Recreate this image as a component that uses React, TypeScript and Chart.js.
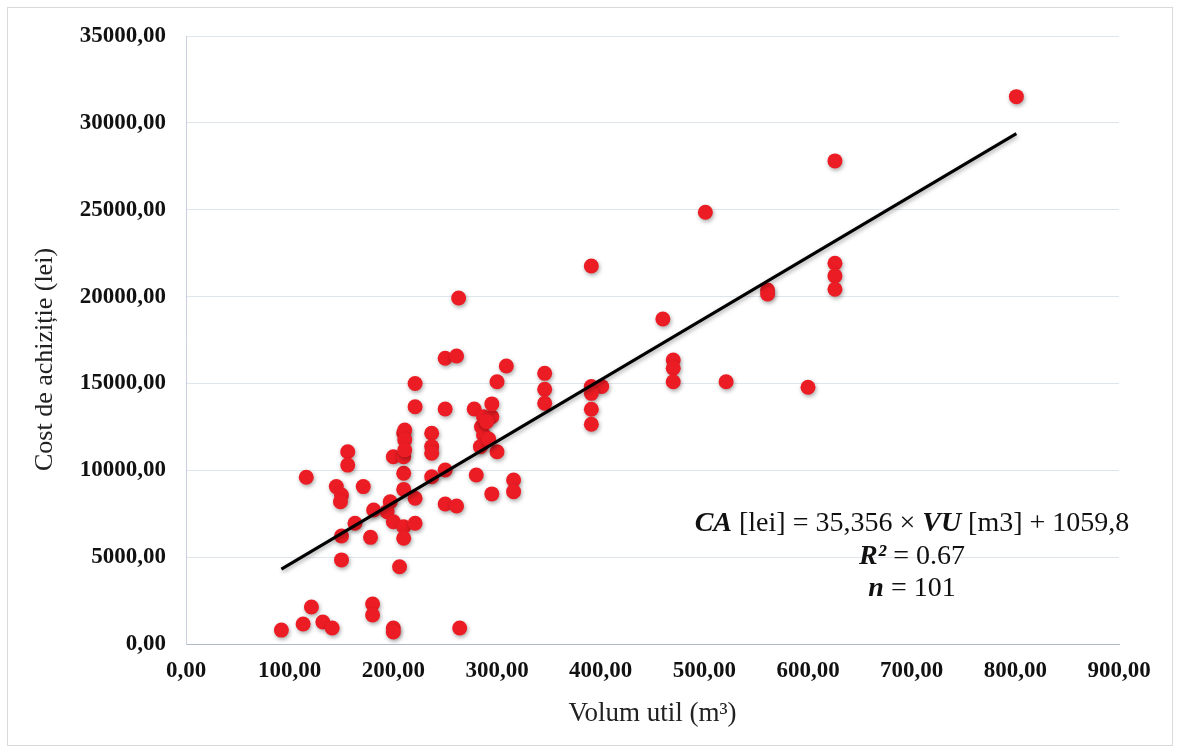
import React, { useEffect, useRef } from 'react';
import { Chart, registerables } from 'chart.js';

Chart.register(...registerables);

// Volum util (m3)
const volumeX = [
  92, 113, 121, 132, 141, 180, 180, 200, 200, 264,
  156, 156, 116, 145, 150, 149, 171, 210, 210, 221,
  197, 181, 194, 200, 210, 221, 210, 163, 150, 178,
  150, 206, 200, 210, 210, 221, 221, 211, 211, 211,
  237, 237, 237, 237, 250, 250, 261, 263, 250, 250,
  261, 278, 280, 285, 287, 284, 287, 295, 295, 300,
  295, 300, 309, 316, 316, 290, 292,
  346, 346, 346, 391, 391, 401, 391, 391, 391, 460,
  470, 470, 470, 501, 521, 561, 561, 600, 626, 626,
  626, 626, 801,
];

// Cost de achizitie (lei)
const costY = [
  800, 1150, 2130, 1270, 920, 2300, 1670, 920, 690, 920,
  11070, 10300, 9600, 9060, 8580, 8190, 9060, 9830, 8900, 8390,
  8190, 7710, 7620, 7040, 6750, 6950, 6090, 6950, 6220, 6140,
  4840, 4450, 10780, 10780, 12150, 15000, 13660, 12320, 11750, 11170,
  12130, 11360, 10980, 9630, 10020, 16450, 16580, 19920, 13530, 8060,
  7945, 13530, 9730, 12510, 12030, 11360, 13085, 13085, 13820, 11070,
  8640, 15100, 16000, 9440, 8770, 12800, 11800,
  15580, 14660, 13860, 21760, 14820, 14820, 14430, 13510, 12650, 18710,
  16350, 15870, 15100, 24850, 15100, 20380, 20150, 14780, 27810, 21920,
  21190, 20420, 31510,
];

// Regression: CA = 35,356 x VU + 1059,8
const slope = 35.356;
const intercept = 1059.8;
const trendX = [92, 801];

const xMin = 0;
const xMax = 900;
const xStep = 100;
const yMin = 0;
const yMax = 35000;
const yStep = 5000;

const xAxisTitle = 'Volum util (m³)';
const yAxisTitle = 'Cost de achiziție (lei)      ';

// equation lines: [text, bold-italic?]
const eqLine1: [string, boolean][] = [['CA', true], [' [lei] = 35,356 × ', false], ['VU', true], [' [m3] + 1059,8', false]];
const eqLine2: [string, boolean][] = [['R²', true], [' = 0.67', false]];
const eqLine3: [string, boolean][] = [['n', true], [' = 101', false]];

const FONT = '"Liberation Serif", "Times New Roman", serif';

const fmt = (v: number) => Number(v).toFixed(2).replace('.', ',');

const shadowPlugin = {
  id: 'dotShadow',
  beforeDatasetDraw(chart: any) {
    const ctx = chart.ctx;
    ctx.save();
    ctx.shadowColor = 'rgba(0,0,0,0.35)';
    ctx.shadowBlur = 4;
    ctx.shadowOffsetX = 1;
    ctx.shadowOffsetY = 2;
  },
  afterDatasetDraw(chart: any) {
    chart.ctx.restore();
  },
};

const equationPlugin = {
  id: 'equation',
  afterDraw(chart: any) {
    const ctx = chart.ctx;
    const size = 28;
    const cx = 912;
    const lines = [
      { segs: eqLine1, y: 524 },
      { segs: eqLine2, y: 557 },
      { segs: eqLine3, y: 589 },
    ];
    ctx.save();
    ctx.textBaseline = 'middle';
    ctx.textAlign = 'left';
    ctx.fillStyle = '#111';
    for (const line of lines) {
      let total = 0;
      const widths: number[] = [];
      for (const [t, b] of line.segs) {
        ctx.font = `${b ? 'italic bold ' : ''}${size}px ${FONT}`;
        const w = ctx.measureText(t).width;
        widths.push(w);
        total += w;
      }
      let x = cx - total / 2;
      line.segs.forEach(([t, b], i) => {
        ctx.font = `${b ? 'italic bold ' : ''}${size}px ${FONT}`;
        ctx.fillText(t, x, line.y);
        x += widths[i];
      });
    }
    ctx.restore();
  },
};

export default function App() {
  const ref = useRef<HTMLCanvasElement | null>(null);

  useEffect(() => {
    if (!ref.current) return;
    const points = volumeX.map((x, i) => ({ x, y: costY[i] }));
    const trend = trendX.map((x) => ({ x, y: slope * x + intercept }));
    const chart = new Chart(ref.current, {
      type: 'scatter',
      data: {
        datasets: [
          {
            type: 'line',
            label: 'Trend',
            data: trend,
            borderColor: '#000',
            borderWidth: 3,
            pointRadius: 0,
            fill: false,
          } as any,
          {
            label: 'Cost',
            data: points,
            backgroundColor: '#ec1c24',
            borderWidth: 0,
            pointRadius: 7.5,
          },
        ],
      },
      options: {
        responsive: false,
        animation: false,
        layout: { padding: { left: 0, right: 61, top: 36, bottom: 0 } },
        plugins: {
          legend: { display: false },
          tooltip: { enabled: false },
        },
        scales: {
          x: {
            type: 'linear',
            min: xMin,
            max: xMax,
            afterFit: (s: any) => { s.height = 109; },
            grid: { display: false, drawTicks: false },
            border: { display: true, color: '#aeb9c8', width: 1 },
            ticks: {
              stepSize: xStep,
              padding: 13,
              color: '#111',
              font: { family: FONT, size: 23, weight: 'bold' },
              callback: (v: any) => fmt(v),
              maxRotation: 0,
            },
            title: {
              display: true,
              text: xAxisTitle,
              color: '#222',
              font: { family: FONT, size: 27 },
              padding: { top: 0, bottom: 23 },
            },
          },
          y: {
            type: 'linear',
            min: yMin,
            max: yMax,
            afterFit: (s: any) => { s.width = 186; },
            grid: { color: '#dfe5ec', lineWidth: 1, drawTicks: false },
            border: { display: true, color: '#c6d0dc', width: 1 },
            ticks: {
              stepSize: yStep,
              padding: 20,
              color: '#111',
              font: { family: FONT, size: 23, weight: 'bold' },
              callback: (v: any) => fmt(v),
            },
            title: {
              display: true,
              text: yAxisTitle,
              color: '#222',
              font: { family: FONT, size: 26 },
              padding: { top: 30, bottom: 0 },
            },
          },
        },
      },
      plugins: [shadowPlugin, equationPlugin],
    });
    return () => chart.destroy();
  }, []);

  return (
    <div style={{ position: 'fixed', left: 0, top: 0, width: 1180, height: 753, background: '#fff' }}>
      <div
        style={{
          position: 'absolute',
          left: 7,
          top: 7,
          width: 1166,
          height: 739,
          border: '1px solid #d9d9d9',
          boxSizing: 'border-box',
        }}
      />
      <canvas ref={ref} width={1180} height={753} style={{ position: 'absolute', left: 0, top: 0 }} />
    </div>
  );
}
